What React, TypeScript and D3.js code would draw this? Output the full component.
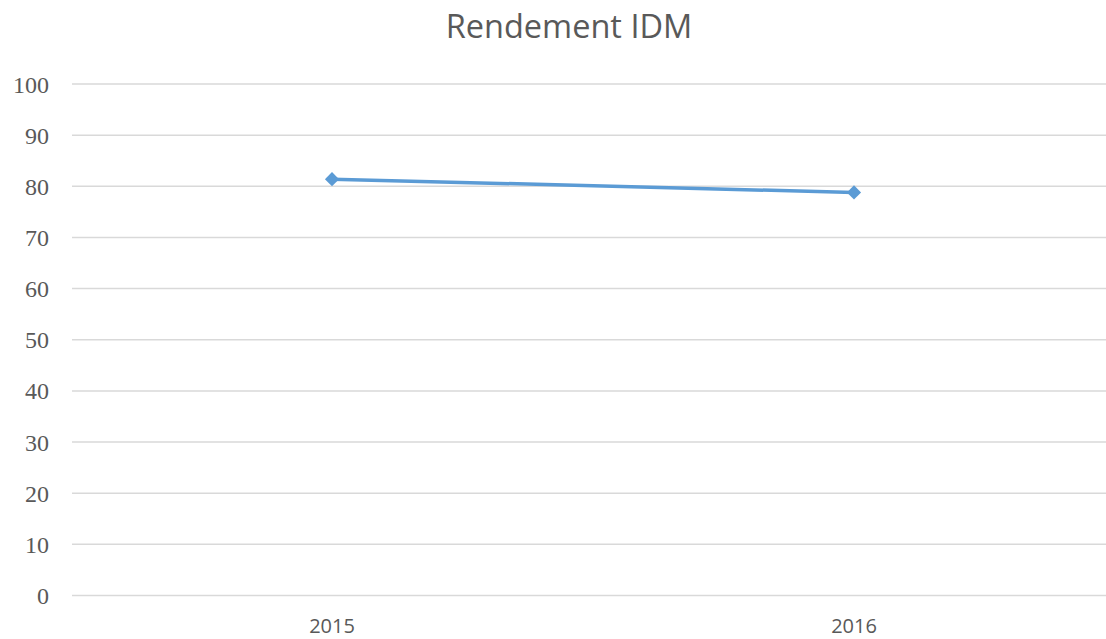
import React, { useRef, useEffect } from "react";
import * as d3 from "d3";

const title = "Rendement IDM";
const years = ["2015", "2016"];
const rendement = [81.4, 78.8];
const yTicks = [0, 10, 20, 30, 40, 50, 60, 70, 80, 90, 100];

const App = () => {
  const chartRef = useRef<SVGSVGElement>(null);

  useEffect(() => {
    const width = 1106;
    const height = 639;
    const svg = d3.select(chartRef.current);
    svg.selectAll("*").remove();

    const x = d3.scaleBand().domain(years).range([71, 1115]);
    const y = d3.scaleLinear().domain([0, 100]).range([595.5, 84]);

    // gridlines
    svg
      .append("g")
      .selectAll("line")
      .data(yTicks)
      .enter()
      .append("line")
      .attr("x1", 72)
      .attr("x2", width)
      .attr("y1", (d) => y(d))
      .attr("y2", (d) => y(d))
      .attr("stroke", "#d9d9d9")
      .attr("stroke-width", 1.5);

    // y labels
    svg
      .append("g")
      .selectAll("text")
      .data(yTicks)
      .enter()
      .append("text")
      .attr("x", 49)
      .attr("y", (d) => y(d) + 8.5)
      .attr("text-anchor", "end")
      .attr("font-family", "'Liberation Serif', serif")
      .attr("font-size", 24)
      .attr("fill", "#595959")
      .text((d) => d);

    // x labels
    svg
      .append("g")
      .selectAll("text")
      .data(years)
      .enter()
      .append("text")
      .attr("x", (d) => x(d)! + x.bandwidth() / 2)
      .attr("y", 633)
      .attr("text-anchor", "middle")
      .attr("font-family", "'Open Sans', sans-serif")
      .attr("font-size", 20)
      .attr("fill", "#595959")
      .text((d) => d);

    // line
    const line = d3
      .line<number>()
      .x((d, i) => x(years[i])! + x.bandwidth() / 2)
      .y((d) => y(d));

    svg
      .append("path")
      .datum(rendement)
      .attr("d", line)
      .attr("fill", "none")
      .attr("stroke", "#5b9bd5")
      .attr("stroke-width", 3.5)
      .attr("stroke-linecap", "round");

    svg
      .append("g")
      .selectAll("path")
      .data(rendement)
      .enter()
      .append("path")
      .attr("d", d3.symbol().type(d3.symbolSquare).size(100))
      .attr(
        "transform",
        (d, i) =>
          `translate(${x(years[i])! + x.bandwidth() / 2},${y(d)}) rotate(45)`
      )
      .attr("fill", "#5b9bd5");

    // title
    svg
      .append("text")
      .attr("x", 569)
      .attr("y", 38)
      .attr("text-anchor", "middle")
      .attr("font-family", "'Open Sans', sans-serif")
      .attr("font-size", 32.5)
      .attr("fill", "#595959")
      .text(title);

    svg.attr("width", width).attr("height", height);
  }, []);

  return (
    <svg
      ref={chartRef}
      style={{ position: "absolute", left: 0, top: 0, background: "#fff" }}
    ></svg>
  );
};

export default App;
